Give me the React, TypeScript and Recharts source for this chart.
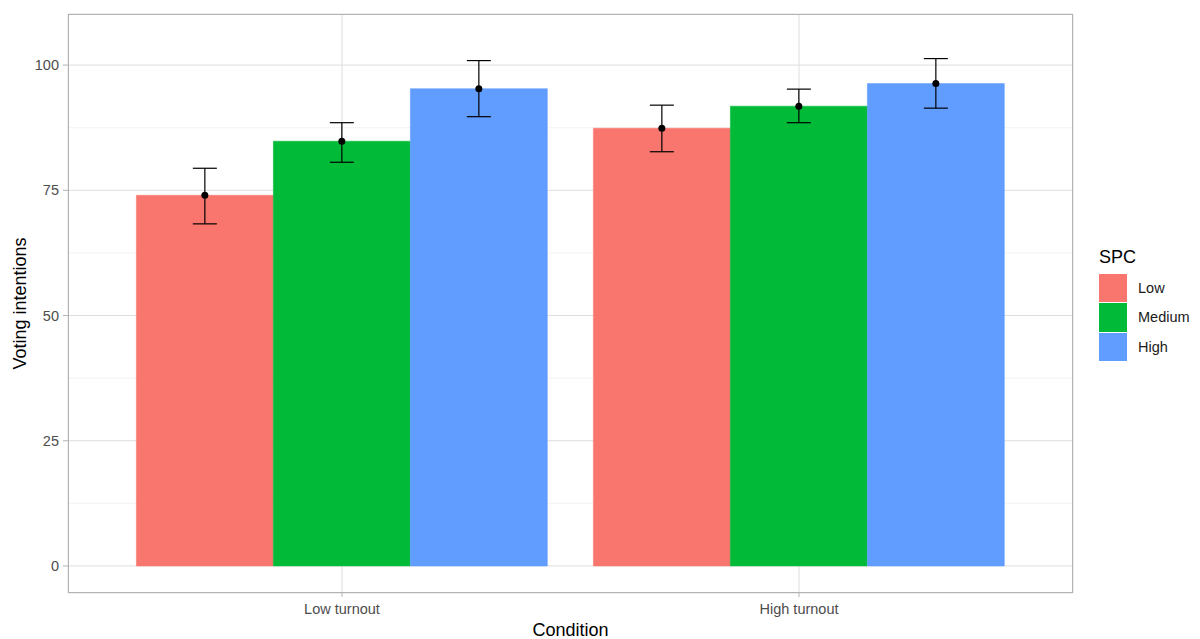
import React from 'react';
import { BarChart, Bar, XAxis, YAxis, CartesianGrid, ErrorBar, LabelList, Label } from 'recharts';

const conditions = ['Low turnout', 'High turnout'];
const spcLevels = ['Low', 'Medium', 'High'];
const spcColors = ['#F8766D', '#00BA38', '#619CFF'];

// means per SPC level, one per condition
const lowMeans = [74.0, 87.4];
const mediumMeans = [84.8, 91.8];
const highMeans = [95.3, 96.3];

// error bar ends (lower, upper)
const lowLower = [68.3, 82.7];
const lowUpper = [79.4, 92.0];
const mediumLower = [80.6, 88.5];
const mediumUpper = [88.5, 95.2];
const highLower = [89.7, 91.4];
const highUpper = [100.9, 101.3];

const yTicks = [0, 25, 50, 75, 100];
const yMinor = [12.5, 37.5, 62.5, 87.5];

const means = [lowMeans, mediumMeans, highMeans];
const lowers = [lowLower, mediumLower, highLower];
const uppers = [lowUpper, mediumUpper, highUpper];

const data = conditions.map((condition, i) => {
  const row: Record<string, any> = { condition };
  spcLevels.forEach((lvl, k) => {
    const m = means[k][i];
    row[lvl] = m;
    row[lvl + 'Err'] = [m - lowers[k][i], uppers[k][i] - m];
  });
  return row;
});

const FONT = '"Liberation Sans", Arial, Helvetica, sans-serif';

const MeanDot = (props: any) => {
  const { x, y, width } = props;
  return <circle cx={Number(x) + Number(width) / 2} cy={Number(y)} r={3.5} fill="#000" />;
};

export default function App() {
  return (
    <div style={{ position: 'absolute', left: 0, top: 0, width: 1200, height: 639, background: '#fff', fontFamily: FONT }}>
      <BarChart
        width={1200}
        height={639}
        data={data}
        margin={{ top: 14, right: 127, bottom: 0, left: 8 }}
        barCategoryGap="5%"
        barGap={0}
      >
        <CartesianGrid horizontalValues={yMinor} vertical={false} stroke="#EBEBEB" strokeWidth={0.6} />
        <CartesianGrid stroke="#DEDEDE" strokeWidth={1} />
        <XAxis
          dataKey="condition"
          height={46}
          padding={{ left: 45.5, right: 45.5 }}
          axisLine={false}
          tickLine={{ stroke: '#B3B3B3' }}
          tickSize={4}
          tickMargin={7}
          tick={{ fill: '#4D4D4D', fontSize: 14.5, fontFamily: FONT }}
        >
          <Label value="Condition" position="insideBottom" offset={3} fill="#000" fontSize={18} fontFamily={FONT} />
        </XAxis>
        <YAxis
          type="number"
          width={60}
          domain={[-5.4, 110.2]}
          ticks={yTicks}
          allowDataOverflow
          axisLine={false}
          tickLine={{ stroke: '#B3B3B3' }}
          tickSize={5}
          tickMargin={4}
          tick={{ fill: '#4D4D4D', fontSize: 14.5, fontFamily: FONT }}
        >
          <Label value="Voting intentions" angle={-90} position="insideLeft" offset={12} fill="#000" fontSize={18} fontFamily={FONT} style={{ textAnchor: 'middle' }} />
        </YAxis>
        {spcLevels.map((lvl, k) => (
          <Bar key={lvl} dataKey={lvl} fill={spcColors[k]} stroke={spcColors[k]} strokeWidth={0.5} isAnimationActive={false}>
            <ErrorBar dataKey={lvl + 'Err'} width={12} stroke="#000" strokeWidth={1.2} direction="y" />
            <LabelList dataKey={lvl} content={MeanDot} />
          </Bar>
        ))}
      </BarChart>
      <div
        style={{
          position: 'absolute',
          left: 68,
          top: 14,
          width: 1005,
          height: 579,
          border: '1px solid #B3B3B3',
          boxSizing: 'border-box',
          pointerEvents: 'none',
        }}
      />
      <div style={{ position: 'absolute', left: 1099, top: 245, color: '#000' }}>
        <div style={{ fontSize: 18, lineHeight: '24px', marginBottom: 4 }}>SPC</div>
        {spcLevels.map((lvl, k) => (
          <div key={lvl} style={{ display: 'flex', alignItems: 'center', height: 29.5 }}>
            <div style={{ width: 28, height: 28.5, background: spcColors[k], marginRight: 11 }} />
            <span style={{ fontSize: 14.5, color: '#1a1a1a' }}>{lvl}</span>
          </div>
        ))}
      </div>
    </div>
  );
}
